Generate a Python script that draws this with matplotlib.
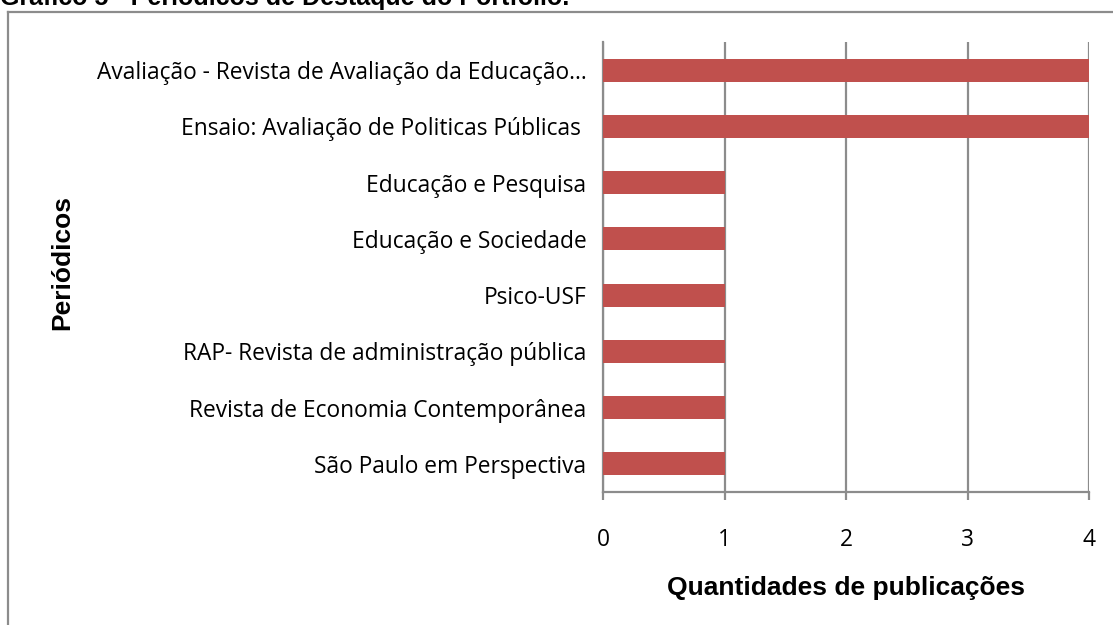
import matplotlib
matplotlib.use("Agg")
import matplotlib.pyplot as plt
from matplotlib.lines import Line2D

categories = [
    "Avaliação - Revista de Avaliação da Educação…",
    "Ensaio: Avaliação de Politicas Públicas ",
    "Educação e Pesquisa",
    "Educação e Sociedade",
    "Psico-USF",
    "RAP- Revista de administração pública",
    "Revista de Economia Contemporânea",
    "São Paulo em Perspectiva",
]
values = [4, 4, 1, 1, 1, 1, 1, 1]
xticks = [0, 1, 2, 3, 4]

W, H = 1113, 625
fig = plt.figure(figsize=(W / 100, H / 100), dpi=100)
fig.patch.set_facecolor("white")

ax = fig.add_axes([603 / W, 1 - 492 / H, (1089 - 603) / W, (492 - 42) / H])
ypos = list(range(len(categories)))
ax.barh(ypos, values, height=0.41, color="#C0504D", zorder=3)
ax.set_ylim(len(categories) - 0.5, -0.5)
ax.set_xlim(0, 4)
ax.set_xticks(xticks)
ax.set_xticklabels([str(t) for t in xticks])
ax.set_yticks(ypos)
ax.set_yticklabels(categories)

grid_col = "#8C8C8C"
ax.xaxis.grid(True, color=grid_col, linewidth=1.6, zorder=1)
ax.set_axisbelow(True)
for s in ["top", "right"]:
    ax.spines[s].set_visible(False)
for s in ["left", "bottom"]:
    ax.spines[s].set_color(grid_col)
    ax.spines[s].set_linewidth(1.6)

ax.tick_params(axis="y", length=0, pad=12, labelsize=16.4)
ax.tick_params(axis="x", length=6, width=1.6, color=grid_col, direction="out", pad=20, labelsize=16.4)
for lab in ax.get_xticklabels() + ax.get_yticklabels():
    lab.set_fontfamily("Open Sans")

fig.text(846 / W, 1 - 588 / H, "Quantidades de publicações", ha="center", va="center",
         fontsize=19, fontweight="bold", family="Liberation Sans")
fig.text(62 / W, 1 - 262 / H, "Periódicos", ha="center", va="center", rotation=90,
         fontsize=19, fontweight="bold", family="Liberation Sans")

# Document caption clipped at top
fig.text(0, 1 - 5.5 / H, "Gráfico 5 - Periódicos de Destaque do Portfólio.", ha="left", va="baseline",
         fontsize=18, fontweight="bold", family="Liberation Sans")

# Chart border
fig.add_artist(Line2D([8 / W, 8 / W], [0, 1 - 12 / H], transform=fig.transFigure, color="#8C8C8C", linewidth=1.6))
fig.add_artist(Line2D([8 / W, 1], [1 - 12 / H, 1 - 12 / H], transform=fig.transFigure, color="#8C8C8C", linewidth=1.6))

fig.savefig("out.png", dpi=100, facecolor="white")
